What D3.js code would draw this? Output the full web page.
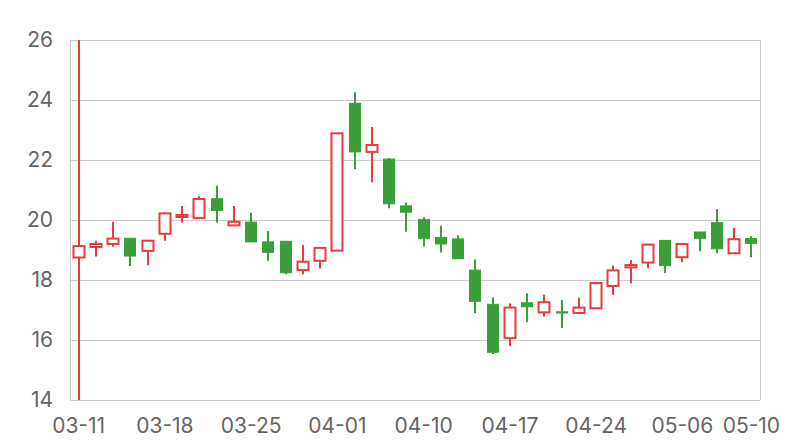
<!DOCTYPE html>
<html>
<head>
<meta charset="utf-8">
<script src="https://cdn.jsdelivr.net/npm/d3@7/dist/d3.min.js"></script>
<style>
  html, body { margin: 0; padding: 0; background: #fff; }
  svg { display: block; }
</style>
</head>
<body>
<svg id="chart" width="800" height="440"></svg>
<script>
const dates = ["03-11","03-12","03-13","03-14","03-15","03-18","03-19","03-20","03-21","03-22",
  "03-25","03-26","03-27","03-28","03-29","04-01","04-02","04-03","04-08","04-09",
  "04-10","04-11","04-12","04-15","04-16","04-17","04-18","04-19","04-22","04-23",
  "04-24","04-25","04-26","04-29","04-30","05-06","05-07","05-08","05-09","05-10"];
const openVals  = [18.75,19.10,19.20,19.39,18.97,19.54,20.10,20.07,20.71,19.82,
  19.93,19.27,19.29,18.33,18.64,18.98,23.89,22.27,22.03,20.47,
  20.02,19.42,19.37,18.33,17.19,16.06,17.24,16.92,16.94,16.90,
  17.06,17.80,18.42,18.58,19.32,18.76,19.60,19.91,18.89,19.38];
const closeVals = [19.13,19.20,19.38,18.80,19.31,20.22,20.17,20.70,20.32,19.94,
  19.27,18.92,18.24,18.61,19.07,22.89,22.27,22.50,20.54,20.26,
  19.39,19.20,18.71,17.29,15.59,17.08,17.11,17.26,16.90,17.08,
  17.90,18.32,18.50,19.18,18.48,19.20,19.39,19.04,19.36,19.22];
const lowVals   = [10.00,18.78,19.11,18.47,18.49,19.31,19.92,20.07,19.92,19.82,
  19.27,18.64,18.19,18.19,18.38,18.98,21.69,21.26,20.39,19.61,
  19.12,18.92,18.71,16.89,15.53,15.80,16.59,16.78,16.40,16.90,
  17.06,17.50,17.89,18.39,18.23,18.59,18.96,18.89,18.89,18.76];
const highVals  = [30.00,19.31,19.94,19.39,19.31,20.25,20.47,20.79,21.14,20.47,
  20.24,19.63,19.29,19.17,19.07,22.89,24.26,23.10,22.07,20.58,
  20.09,19.81,19.49,18.68,17.42,17.22,17.56,17.51,17.33,17.42,
  17.90,18.48,18.67,19.18,19.32,19.20,19.60,20.37,19.74,19.46];
const yTicks = [14,16,18,20,22,24,26];
const xTickLabels = ["03-11","03-18","03-25","04-01","04-10","04-17","04-24","05-06","05-10"];

const upColor = "#e83b3f";
const downColor = "#3a9f3a";
const gridColor = "#cccccc";
const textColor = "#666666";
const fontFamily = "Inter, 'Noto Sans', sans-serif";

const data = dates.map((d, i) => ({date: d, open: openVals[i], close: closeVals[i], low: lowVals[i], high: highVals[i]}));

const margin = {left: 70, right: 40, top: 40, bottom: 40};
const W = 800, H = 440;
const svg = d3.select("#chart");

const x = d3.scaleBand().domain(dates).range([margin.left, W - margin.right]).padding(0);
const y = d3.scaleLinear().domain([14, 26]).range([H - margin.bottom, margin.top]);

// grid
const grid = svg.append("g");
grid.selectAll("line.h").data(yTicks).join("line")
  .attr("x1", margin.left).attr("x2", W - margin.right)
  .attr("y1", d => Math.round(y(d)) + 0.5).attr("y2", d => Math.round(y(d)) + 0.5)
  .attr("stroke", gridColor).attr("stroke-width", 1);
grid.append("line")
  .attr("x1", margin.left + 0.5).attr("x2", margin.left + 0.5)
  .attr("y1", margin.top).attr("y2", H - margin.bottom)
  .attr("stroke", gridColor);
grid.append("line")
  .attr("x1", W - margin.right + 0.5).attr("x2", W - margin.right + 0.5)
  .attr("y1", margin.top).attr("y2", H - margin.bottom)
  .attr("stroke", gridColor);

// y axis labels
const yAxis = d3.axisLeft(y).tickValues(yTicks).tickSize(0).tickPadding(17).tickFormat(d3.format("d"));
const yg = svg.append("g").attr("transform", `translate(${margin.left},0)`).call(yAxis);
yg.select(".domain").remove();
yg.selectAll("text").attr("fill", textColor).style("font-family", fontFamily).style("font-size", "21px");

// x axis labels
const xAxis = d3.axisBottom(x).tickValues(xTickLabels).tickSize(0).tickPadding(18);
const xg = svg.append("g").attr("transform", `translate(0,${H - margin.bottom})`).call(xAxis);
xg.select(".domain").remove();
xg.selectAll("text").attr("fill", textColor).style("font-family", fontFamily).style("font-size", "21px");

// clip
svg.append("clipPath").attr("id", "plotclip").append("rect")
  .attr("x", margin.left).attr("y", margin.top)
  .attr("width", W - margin.left - margin.right).attr("height", H - margin.top - margin.bottom);

const candles = svg.append("g").attr("clip-path", "url(#plotclip)");
const bw = 11;
const g = candles.selectAll("g.c").data(data).join("g").attr("class", "c");
g.append("line")
  .attr("x1", d => Math.round(x(d.date) + x.bandwidth() / 2))
  .attr("x2", d => Math.round(x(d.date) + x.bandwidth() / 2))
  .attr("y1", d => y(d.high)).attr("y2", d => y(d.low))
  .attr("stroke", d => d.close >= d.open ? upColor : downColor)
  .attr("stroke-width", 2);
g.append("rect")
  .attr("x", d => Math.round(x(d.date) + x.bandwidth() / 2) - bw / 2)
  .attr("width", bw)
  .attr("y", d => y(Math.max(d.open, d.close)))
  .attr("height", d => Math.max(1, Math.abs(y(d.open) - y(d.close))))
  .attr("fill", d => d.close >= d.open ? "#ffffff" : downColor)
  .attr("stroke", d => d.close >= d.open ? upColor : downColor)
  .attr("stroke-width", d => d.close >= d.open ? 2 : 1);
</script>
</body>
</html>
